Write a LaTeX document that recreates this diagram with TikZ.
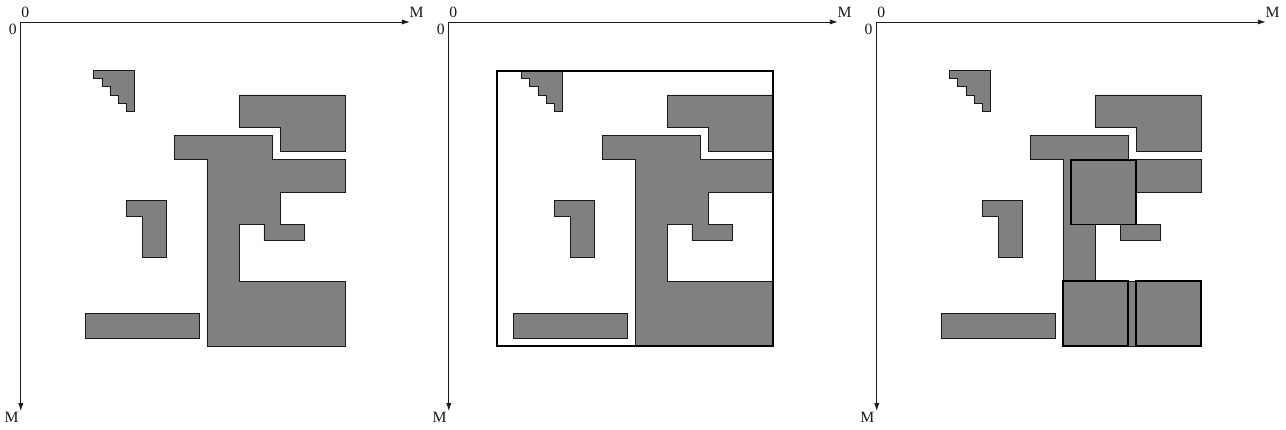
\documentclass[tikz,border=0pt]{standalone}
\usepackage{fontspec}
\setmainfont{Liberation Serif}
\usetikzlibrary{arrows.meta}
\definecolor{ink}{HTML}{1A1A1A}
\definecolor{cfill}{HTML}{808080}

\begin{document}
\begin{tikzpicture}[x=0.2cm,y=-0.2cm,
  axis/.style={draw=ink,line width=0.55pt,-{Latex[length=5.5pt,width=3.6pt]}},
  blk/.style={fill=cfill,draw=ink,line width=0.5pt},
  frm/.style={draw=black,line width=1.3pt},
  lab/.style={font=\fontsize{11}{13}\selectfont,text=ink,inner sep=0pt}]
\useasboundingbox (-2.57,-2.71) rectangle (156.12,50.35);
% axes and the shapes shared by the three panels
\foreach \p/\n in {0/a,52.81/b,105.62/c}{
\begin{scope}[shift={(\p,0)}]
\coordinate (o\n) at (0,0);
\coordinate (x\n) at (48,0);
\coordinate (y\n) at (0,48);
\draw[axis] (o\n) -- (x\n);
\draw[axis] (o\n) -- (y\n);
\node[lab] (tx\n) at (0.55,-1.15) {0};
\node[lab] (ty\n) at (-1.0,0.95) {0};
\node[lab] (mx\n) at (48.85,-1.15) {M};
\node[lab] (my\n) at (-1.15,48.75) {M};
\draw[blk] (9,6) -| (14,11) -| (13,10) -| (12,9) -| (11,8) -| (10,7) -| (9,6) -- cycle;
\draw[blk] (27,9) -| (40,16) -| (32,13) -| (27,9) -- cycle;
\draw[blk] (13,22) -| (18,29) -| (15,24) -| (13,22) -- cycle;
\draw[blk] (8,36) rectangle (22,39);
\end{scope}}
% panels 1 and 2: the big piece
\foreach \p in {0,52.81}{
\begin{scope}[shift={(\p,0)}]
\draw[blk] (19,14) -| (31,17) -| (40,21) -| (32,25) -| (35,27) -| (30,25) -| (27,32) -| (40,40) -| (23,17) -| (19,14) -- cycle;
\end{scope}}
% panel 2: frame
\begin{scope}[shift={(52.81,0)}]
\draw[frm] (6,6) rectangle (40,40);
\end{scope}
% panel 3: pieces and squares
\begin{scope}[shift={(105.62,0)}]
\draw[blk] (19,14) -| (31,17) -| (24,25) -| (27,32) -| (23,17) -| (19,14) -- cycle;
\draw[blk] (32,17) rectangle (40,21);
\draw[blk] (30,25) rectangle (35,27);
\draw[blk] (31,32) rectangle (32,40);
\draw[frm,fill=cfill] (24,17) rectangle (32,25);
\draw[frm,fill=cfill] (23,32) rectangle (31,40);
\draw[frm,fill=cfill] (32,32) rectangle (40,40);
\end{scope}
\end{tikzpicture}
\end{document}
